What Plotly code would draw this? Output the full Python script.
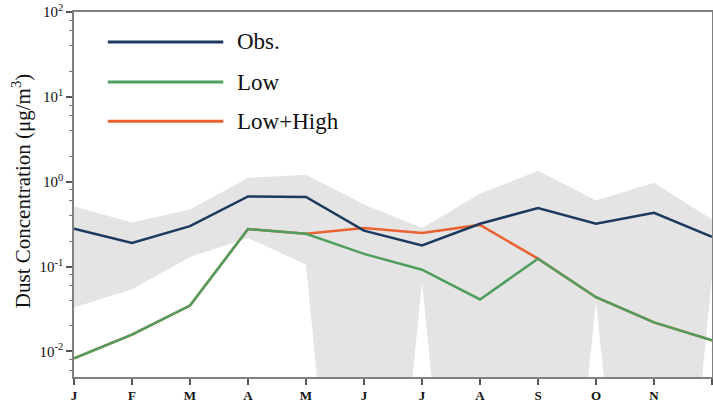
import plotly.graph_objects as go

months = ["J", "F", "M", "A", "M", "J", "J", "A", "S", "O", "N", "D"]
x_idx = list(range(12))

obs = [0.28, 0.19, 0.30, 0.67, 0.66, 0.265, 0.178, 0.32, 0.49, 0.32, 0.43, 0.224]
low = [0.0083, 0.0158, 0.0347, 0.277, 0.244, 0.141, 0.092, 0.041, 0.124, 0.0436, 0.022, 0.0135]
low_high = [0.0083, 0.0158, 0.0347, 0.277, 0.244, 0.285, 0.249, 0.31, 0.124, 0.0436, 0.022, 0.0135]
band_upper = [0.51, 0.33, 0.47, 1.11, 1.21, 0.54, 0.285, 0.72, 1.35, 0.60, 0.97, 0.36]
band_lower = [0.033, 0.054, 0.13, 0.217, 0.106, 1e-8, 0.065, 1e-8, 1e-8, 0.039, 1e-8, 0.075]

y_tick_vals = [0.01, 0.1, 1, 10, 100]
y_tick_text = ["10<sup>-2</sup>", "10<sup>-1</sup>", "10<sup>0</sup>", "10<sup>1</sup>", "10<sup>2</sup>"]

legend_names = ["Obs.", "Low", "Low+High"]
c_obs, c_low, c_lh = "#1c3a5e", "#4f9e5e", "#ea6231"
c_band = "#e4e4e4"
font_family = "Liberation Serif, Times New Roman, serif"

fig = go.Figure()
fig.add_trace(go.Scatter(x=x_idx, y=band_lower, mode="lines", line=dict(width=0),
                         showlegend=False, hoverinfo="skip"))
fig.add_trace(go.Scatter(x=x_idx, y=band_upper, mode="lines", line=dict(width=0),
                         fill="tonexty", fillcolor=c_band, showlegend=False, hoverinfo="skip"))
fig.add_trace(go.Scatter(x=x_idx, y=low_high, mode="lines", line=dict(color=c_lh, width=2.5),
                         name=legend_names[2], showlegend=False))
fig.add_trace(go.Scatter(x=x_idx, y=low, mode="lines", line=dict(color=c_low, width=2.5),
                         name=legend_names[1], showlegend=False))
fig.add_trace(go.Scatter(x=x_idx, y=obs, mode="lines", line=dict(color=c_obs, width=2.5),
                         name=legend_names[0], showlegend=False))

# custom legend (long line samples)
leg_colors = [c_obs, c_low, c_lh]
leg_y = [0.918, 0.808, 0.701]
for name, col, yy in zip(legend_names, leg_colors, leg_y):
    fig.add_shape(type="line", xref="paper", yref="paper", x0=0.053, x1=0.234, y0=yy, y1=yy,
                  line=dict(color=col, width=3))
    fig.add_annotation(xref="paper", yref="paper", x=0.252, y=yy, text=name, showarrow=False,
                       xanchor="left", yanchor="middle",
                       font=dict(family=font_family, size=23, color="#111"))

fig.add_annotation(xref="paper", yref="paper", x=-0.081, y=0.51, textangle=-90,
                   text="Dust Concentration (μg/m<sup>3</sup>)", showarrow=False,
                   xanchor="center", yanchor="middle",
                   font=dict(family=font_family, size=21, color="#111"))

minor_vals = []
for e in [-3, -2, -1, 0, 1]:
    for m in [2, 4, 6, 8]:
        minor_vals.append(m * 10 ** e)

fig.update_layout(
    width=713, height=404,
    margin=dict(l=74, r=1, t=12, b=27),
    plot_bgcolor="white", paper_bgcolor="white",
    font=dict(family=font_family, color="#111"),
    showlegend=False,
    xaxis=dict(
        range=[0, 11], tickvals=x_idx, ticktext=months, automargin=False,
        showgrid=False, zeroline=False, showline=True, linecolor="#808080", linewidth=1.5,
        mirror=True, ticks="outside", ticklen=6, tickcolor="#555", tickwidth=1.5,
        tickfont=dict(family=font_family, size=13, color="#111", weight="bold"),
    ),
    yaxis=dict(
        type="log", range=[-2.301, 2], tickvals=y_tick_vals, ticktext=y_tick_text,
        automargin=False,
        showgrid=False, zeroline=False, showline=True, linecolor="#808080", linewidth=1.5,
        mirror=True, ticks="outside", ticklen=6, tickcolor="#555", tickwidth=1.5,
        tickfont=dict(family=font_family, size=15, color="#111"),
        minor=dict(tickvals=minor_vals, ticks="outside", ticklen=3, tickcolor="#777", tickwidth=1),
    ),
)

fig.write_html("out.html", config={"displayModeBar": False},
               post_script="document.body.style.margin='0';document.body.style.overflow='hidden';")
